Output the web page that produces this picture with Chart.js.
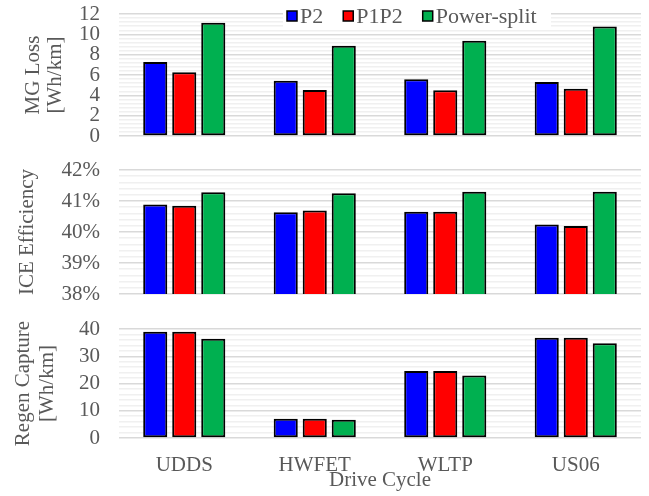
<!DOCTYPE html>
<html>
<head>
<meta charset="utf-8">
<script src="https://cdn.jsdelivr.net/npm/chart.js@4.4.1/dist/chart.umd.min.js"></script>
<style>
body { margin: 0; background: #fff; }
#wrap { position: relative; width: 649px; height: 496px; }
#wrap canvas { position: absolute; left: 0; top: 0; }
</style>
</head>
<body>
<div id="wrap">
    <canvas id="mgChart" width="649" height="496"></canvas>
    <canvas id="iceChart" width="649" height="496"></canvas>
    <canvas id="regenChart" width="649" height="496"></canvas>
</div>
<script>
// data
const cycles = ['UDDS', 'HWFET', 'WLTP', 'US06'];
const seriesNames = ['P2', 'P1P2', 'Power-split'];
const seriesColors = ['#0000FF', '#FF0000', '#00B050'];

const mgP2 = [7.28, 5.44, 5.57, 5.31];
const mgP1P2 = [6.26, 4.52, 4.49, 4.65];
const mgSplit = [11.14, 8.88, 9.37, 10.78];

const iceP2 = [40.89, 40.64, 40.65, 40.24];
const iceP1P2 = [40.85, 40.69, 40.65, 40.19];
const iceSplit = [41.28, 41.25, 41.30, 41.30];

const regenP2 = [39.0, 7.1, 24.6, 36.8];
const regenP1P2 = [39.0, 7.1, 24.6, 36.8];
const regenSplit = [36.4, 6.7, 22.9, 34.8];

// axis ranges: [min, max, minor step, major step]
const mgAxis = [0, 12, 0.4, 2];
const iceAxis = [38, 42, 0.2, 1];
const regenAxis = [0, 40, 2, 10];

const textColor = '#595959';
const serif = 'Liberation Serif';
Chart.defaults.font.family = serif;
Chart.defaults.color = textColor;

function isMajor(v, major) {
    const r = v / major;
    return Math.abs(r - Math.round(r)) < 1e-6;
}

function makeDatasets(values) {
    return values.map(function (vals, i) {
        return {
            label: seriesNames[i],
            data: vals,
            backgroundColor: seriesColors[i],
            borderColor: '#000',
            borderWidth: 2,
            borderSkipped: false,
            barPercentage: 0.83,
            categoryPercentage: 0.667
        };
    });
}

function yAxis(range, fmt, title, titleLH, titlePad) {
    return {
        min: range[0],
        max: range[1],
        afterFit: function (scale) {
            scale.width = 119;
            // plot box is set by layout padding, not by label overhang
            scale.paddingTop = 0;
            scale.paddingBottom = 0;
        },
        border: { display: false },
        grid: {
            drawTicks: false,
            lineWidth: 1.5,
            color: function (c) {
                return isMajor(c.tick.value, range[3]) ? '#d9d9d9' : '#f0f0f0';
            }
        },
        ticks: {
            stepSize: range[2],
            autoSkip: false,
            padding: 19,
            color: textColor,
            font: { size: 21, lineHeight: 1.2 },
            callback: function (v) {
                return isMajor(v, range[3]) ? fmt(Math.round(v)) : '';
            }
        },
        title: {
            display: true,
            text: title,
            color: textColor,
            padding: { top: titlePad, bottom: 0 },
            font: { size: 21, lineHeight: titleLH }
        }
    };
}

const hiddenX = { display: false };

const legendOverlay = {
    id: 'legendOverlay',
    afterDraw: function (chart) {
        const ctx = chart.ctx;
        ctx.save();
        ctx.fillStyle = '#fff';
        ctx.fillRect(283, 0, 268, 28);
        ctx.font = '22px "Liberation Serif"';
        ctx.textBaseline = 'middle';
        let x = 287;
        chart.data.datasets.forEach(function (ds) {
            ctx.fillStyle = ds.backgroundColor;
            ctx.fillRect(x, 11, 10, 10);
            ctx.strokeStyle = '#000';
            ctx.lineWidth = 1.5;
            ctx.strokeRect(x, 11, 10, 10);
            ctx.fillStyle = textColor;
            ctx.fillText(ds.label, x + 13, 17);
            x += 13 + ctx.measureText(ds.label).width + 20;
        });
        ctx.restore();
    }
};

function makePanel(id, values, y, x, padding, plugins) {
    return new Chart(document.getElementById(id), {
        type: 'bar',
        data: { labels: cycles, datasets: makeDatasets(values) },
        options: {
            responsive: false,
            animation: false,
            layout: { padding: padding },
            plugins: { legend: { display: false }, tooltip: { enabled: false } },
            scales: { x: x, y: y }
        },
        plugins: plugins || []
    });
}

makePanel('mgChart', [mgP2, mgP1P2, mgSplit],
    yAxis(mgAxis, v => String(v), ['MG Loss', '[Wh/km]'], 1.07, 21.75),
    hiddenX, { top: 14, bottom: 360, left: 0, right: 8 }, [legendOverlay]);

makePanel('iceChart', [iceP2, iceP1P2, iceSplit],
    yAxis(iceAxis, v => v + '%', 'ICE Efficiency', 1.1, 15.5),
    hiddenX, { top: 170, bottom: 202, left: 0, right: 8 });

makePanel('regenChart', [regenP2, regenP1P2, regenSplit],
    yAxis(regenAxis, v => String(v), ['Regen Capture', '[Wh/km]'], 1.167, 10.75),
    {
        afterFit: function (scale) { scale.height = 55; },
        border: { display: false },
        grid: { display: false, drawTicks: false },
        ticks: { padding: 15, color: textColor, font: { size: 21, lineHeight: 1.2 } },
        title: {
            display: true,
            text: 'Drive Cycle',
            color: textColor,
            padding: 0,
            font: { size: 21, lineHeight: 1.2 }
        }
    },
    { top: 329, bottom: 3, left: 0, right: 8 });
</script>
</body>
</html>
